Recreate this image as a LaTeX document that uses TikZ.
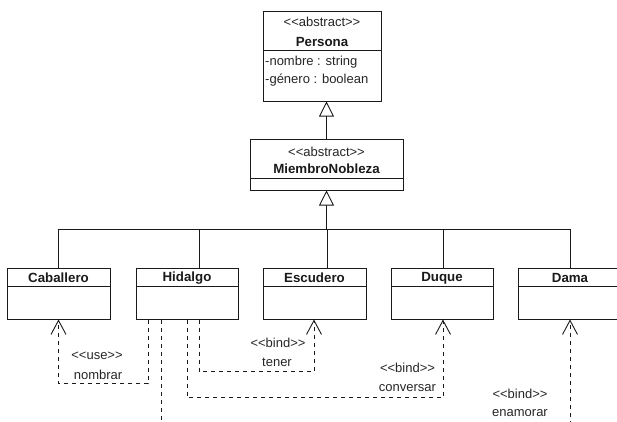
\documentclass[tikz,border=0pt]{standalone}
\usepackage{fontspec}
\setmainfont{Liberation Sans}
\usetikzlibrary{arrows.meta}

\definecolor{ink}{HTML}{1A1A1A}
\definecolor{txt}{HTML}{262626}

\tikzset{
  umlbox/.style={draw=ink, line width=1pt, fill=white, inner sep=0pt,
                 minimum height=51pt},
  stereo/.style={inner sep=0pt, text=txt, font=\fontsize{13}{15}\selectfont},
  cname/.style={inner sep=0pt, text=ink, font=\fontsize{13.3}{15}\selectfont\bfseries},
  attr/.style={inner sep=0pt, anchor=west, text=txt, font=\fontsize{13}{15}\selectfont},
  lbl/.style={inner sep=0pt, text=txt, font=\fontsize{13}{15}\selectfont},
  rel/.style={draw=ink, line width=0.9pt},
  gen/.style={rel, -{Triangle[open, length=15pt, width=15pt, fill=white]}},
  dep/.style={rel, dash pattern=on 4pt off 4pt,
              -{Straight Barb[length=14pt, width=15pt, line width=0.9pt]}},
}

\begin{document}
\begin{tikzpicture}[x=1pt, y=-1pt]
  \useasboundingbox (0,0) rectangle (617,421);

  % abstract base class
  \node[umlbox, minimum width=118pt, minimum height=90pt] (persona) at (322,56) {};
  \draw[ink, line width=1pt] (263,50) -- (381,50);
  \node[stereo] (personaSt) at (322,22) {<{}<abstract>{}>};
  \node[cname]  (personaNm) at (322,42) {Persona};
  \node[attr]   (attrNombre) at (265,62) {-nombre : string};
  \node[attr]   (attrGenero) at (265,80) {-género : boolean};

  % intermediate abstract class
  \node[umlbox, minimum width=153pt] (mn) at (326.5,164.5) {};
  \draw[ink, line width=1pt] (250,178) -- (403,178);
  \node[stereo] (mnSt) at (326.5,152) {<{}<abstract>{}>};
  \node[cname]  (mnNm) at (326.5,169) {MiembroNobleza};

  % concrete classes
  \node[umlbox, minimum width=103pt] (cab) at (58.5,293.5) {};
  \node[umlbox, minimum width=102pt] (hid) at (187,293.5) {};
  \node[umlbox, minimum width=103pt] (esc) at (314.5,293.5) {};
  \node[umlbox, minimum width=102pt] (duq) at (442,293.5) {};
  \node[umlbox, minimum width=104pt] (dam) at (570,293.5) {};
  \foreach \n in {cab,hid,esc,duq,dam}
    \draw[ink, line width=1pt] ([yshift=-19pt]\n.north west) -- ([yshift=-19pt]\n.north east);
  \node[cname] (cabNm) at (58.5,278) {Caballero};
  \node[cname] (hidNm) at (187,278) {Hidalgo};
  \node[cname] (escNm) at (314.5,278) {Escudero};
  \node[cname] (duqNm) at (442,278) {Duque};
  \node[cname] (damNm) at (570,278) {Dama};

  % generalizations
  \draw[gen] (mn.north) -- (mn.north |- persona.south);
  \coordinate (bus) at (0,229);
  \draw[gen] (mn.south |- bus) -- (mn.south);
  \draw[rel] (cab.north) |- (dam.north |- bus) -- (dam.north);
  \draw[rel] ([xshift=12pt]hid.north) -- ([xshift=12pt]hid.north |- bus);
  \draw[rel] ([xshift=12.5pt]esc.north) -- ([xshift=12.5pt]esc.north |- bus);
  \draw[rel] ([xshift=1pt]duq.north) -- ([xshift=1pt]duq.north |- bus);

  % dependencies from Hidalgo
  \draw[dep] ([xshift=-39pt]hid.south) -- ++(0,64) -| (cab.south);
  \draw[dep] ([xshift=12pt]hid.south) -- ++(0,52) -| ([xshift=-0.5pt]esc.south);
  \draw[dep] (hid.south) -- ++(0,78) -| ([xshift=1pt]duq.south);
  \draw[dep] ([xshift=-26pt]hid.south) -- ++(0,112) -| (dam.south);

  % dependency labels
  \node[lbl] (useSt)  at (97,356)  {<{}<use>{}>};
  \node[lbl] (useNm)  at (98,375)  {nombrar};
  \node[lbl] (tenSt)  at (278,343) {<{}<bind>{}>};
  \node[lbl] (tenNm)  at (277,362) {tener};
  \node[lbl] (conSt)  at (407.5,368) {<{}<bind>{}>};
  \node[lbl] (conNm)  at (407.5,388) {conversar};
  \node[lbl] (enaSt)  at (520,394) {<{}<bind>{}>};
  \node[lbl] (enaNm)  at (520,413) {enamorar};
\end{tikzpicture}
\end{document}
